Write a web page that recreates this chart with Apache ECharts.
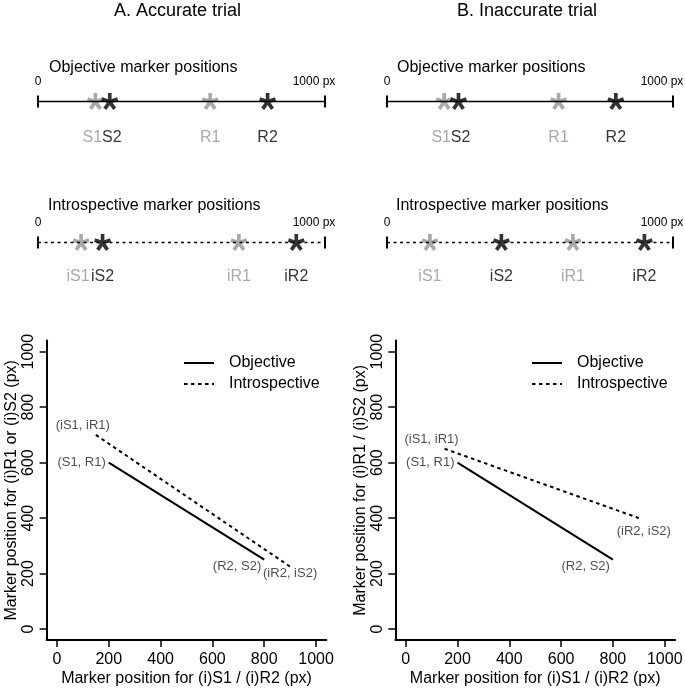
<!DOCTYPE html>
<html><head><meta charset="utf-8">
<script src="https://cdn.jsdelivr.net/npm/echarts@6/dist/echarts.min.js"></script>
<style>html,body{margin:0;padding:0;background:#fff}#c{width:685px;height:690px}</style>
</head><body><div id="c"></div>
<script>
// ---------------- data ----------------
const objectiveNames = ['S1', 'S2', 'R1', 'R2'];
const introNames = ['iS1', 'iS2', 'iR1', 'iR2'];
const objectiveA = [200, 250, 600, 800];   // S1, S2, R1, R2 (accurate trial)
const introA = [150, 225, 700, 900];       // iS1, iS2, iR1, iR2
const objectiveB = [200, 250, 600, 800];   // inaccurate trial
const introB = [150, 400, 650, 900];
const lineEnds = [0, 1000];
const lineEndLabels = ['0', '1000 px'];
const axisTicks = [0, 200, 400, 600, 800, 1000];
const seriesNames = ['Objective', 'Introspective'];
const panelTitles = ['A. Accurate trial', 'B. Inaccurate trial'];
const lineTitles = ['Objective marker positions', 'Introspective marker positions'];
const yAxisTitles = ['Marker position for (i)R1 or (i)S2 (px)', 'Marker position for (i)R1 / (i)S2 (px)'];
const xAxisTitle = 'Marker position for (i)S1 / (i)R2 (px)';

// ---------------- styling / building ----------------
const FONT = 'Liberation Sans, Arial, Helvetica, sans-serif';
const GRAY = '#939393';

function starPath() {
  const w = 0.22;
  let d = '';
  for (let k = 0; k < 5; k++) {
    const a = (-90 + 72 * k) * Math.PI / 180;
    const cx = Math.cos(a), cy = Math.sin(a);
    const px = -cy * w, py = cx * w;
    const pts = [[px, py], [cx + px, cy + py], [cx - px, cy - py], [-px, -py]];
    d += 'M' + pts.map(p => p[0].toFixed(3) + ' ' + p[1].toFixed(3)).join(' L') + ' Z ';
  }
  return 'path://' + d;
}
const STAR = starPath();

// top number-line grids: [left, width, centerY]
const lineGrids = [
  [38, 287, 101.5], [38, 287, 242.5],
  [387, 286, 101.5], [387, 286, 242.5]
];
const plotGrids = [[46.6, 279.8], [395.3, 279.8]];
const PLOT_TOP = 340.6, PLOT_H = 299.5;

const grid = [], xAxis = [], yAxis = [], series = [];
lineGrids.forEach((g, i) => {
  grid.push({left: g[0], width: g[1], top: g[2] - 10, height: 20, outerBoundsMode: 'none'});
  xAxis.push({gridIndex: i, type: 'value', min: 0, max: 1000, show: false});
  yAxis.push({gridIndex: i, type: 'value', min: -1, max: 1, show: false});
});
plotGrids.forEach((g, k) => {
  const gi = 4 + k;
  grid.push({left: g[0], width: g[1], top: PLOT_TOP, height: PLOT_H, outerBoundsMode: 'none'});
  const common = {
    gridIndex: gi, type: 'value', min: -40, max: 1040,
    axisLine: {show: true, onZero: false, lineStyle: {color: '#000', width: 2}},
    axisTick: {show: true, customValues: axisTicks, length: 7, lineStyle: {color: '#000', width: 1.5}},
    splitLine: {show: false},
    nameLocation: 'middle',
    nameMoveOverlap: false,
    nameTextStyle: {fontSize: 16, color: '#000', fontFamily: FONT}
  };
  xAxis.push(Object.assign({}, common, {
    name: xAxisTitle, nameGap: 30,
    axisLabel: {customValues: axisTicks, formatter: v => String(v), fontSize: 16, color: '#000', margin: 11, fontFamily: FONT}
  }));
  yAxis.push(Object.assign({}, common, {
    name: yAxisTitles[k], nameGap: 27,
    axisLabel: {customValues: axisTicks, formatter: v => String(v), fontSize: 16, color: '#000', margin: 10,
                rotate: 90, align: 'center', verticalAlign: 'bottom', fontFamily: FONT}
  }));
});

function numberLine(gi, dashed) {
  series.push({
    type: 'line', xAxisIndex: gi, yAxisIndex: gi, silent: true,
    data: lineEnds.map((v, j) => ({
      value: [v, 0],
      label: {show: true, position: 'inside', formatter: lineEndLabels[j],
              offset: j === 0 ? [0, -19.5] : [-11, -19.5], fontSize: 12, color: '#000', fontFamily: FONT}
    })),
    symbol: 'rect', symbolSize: [2, 12], showSymbol: true,
    itemStyle: {color: '#000'},
    lineStyle: {color: '#000', width: 1.5, type: dashed ? [3, 3.5] : 'solid'}
  });
}
function markers(gi, positions, names, dy, dxs) {
  series.push({
    type: 'scatter', xAxisIndex: gi, yAxisIndex: gi, silent: true,
    symbol: STAR, symbolSize: 17,
    data: positions.map((v, j) => {
      const c = names[j].endsWith('1') ? GRAY : '#000';
      return {value: [v, 0], itemStyle: {color: c},
              label: {show: true, position: 'inside', formatter: names[j], offset: [dxs[j], dy],
                      fontSize: 16, color: c, fontFamily: FONT}};
    })
  });
}
numberLine(0, false); markers(0, objectiveA, objectiveNames, 36, [-3, 2, 0, 0]);
numberLine(1, true);  markers(1, introA, introNames, 34, [-3, 0, 0, 0]);
numberLine(2, false); markers(2, objectiveB, objectiveNames, 36, [-3, 2, 0, 0]);
numberLine(3, true);  markers(3, introB, introNames, 34, [0, 0, 0, 0]);

function plotSeries(gi, obj, intro, introEndLabel) {
  const objPts = [[obj[0], obj[2]], [obj[3], obj[1]]];
  const intPts = [[intro[0], intro[2]], [intro[3], intro[1]]];
  series.push({type: 'line', name: seriesNames[0], xAxisIndex: gi, yAxisIndex: gi, data: objPts,
    symbol: 'none', silent: true, lineStyle: {color: '#000', width: 2}, itemStyle: {color: '#000'}});
  series.push({type: 'line', name: seriesNames[1], xAxisIndex: gi, yAxisIndex: gi, data: intPts,
    symbol: 'none', silent: true, lineStyle: {color: '#000', width: 2, type: [3.5, 3.5]}, itemStyle: {color: '#000'}});
  const lab = {fontSize: 13, color: '#222', fontFamily: FONT};
  series.push({type: 'scatter', xAxisIndex: gi, yAxisIndex: gi, silent: true, symbolSize: 0,
    itemStyle: {color: 'transparent'},
    data: [
      {value: objPts[0], label: Object.assign({show: true, formatter: '(S1, R1)', position: 'left', distance: 3}, lab)},
      {value: objPts[1], label: Object.assign({show: true, formatter: '(R2, S2)', position: 'left', distance: 3, offset: [0, 7]}, lab)},
      {value: intPts[0], label: Object.assign({show: true, formatter: '(iS1, iR1)', position: 'top', distance: 3, offset: [-13, 0]}, lab)},
      {value: intPts[1], label: Object.assign({show: true, formatter: '(iR2, iS2)'}, introEndLabel, lab)}
    ]});
}
plotSeries(4, objectiveA, introA, {position: 'bottom', distance: 0});
plotSeries(5, objectiveB, introB, {position: 'bottom', distance: 7, offset: [5, 0]});

const titleStyle = (fs) => ({fontSize: fs, fontWeight: 'normal', color: '#000', fontFamily: FONT});
const title = [
  {text: panelTitles[0], left: 114, top: 2, padding: 0, textStyle: titleStyle(18)},
  {text: panelTitles[1], left: 457, top: 2, padding: 0, textStyle: titleStyle(18)},
  {text: lineTitles[0], left: 49, top: 60, padding: 0, textStyle: titleStyle(16)},
  {text: lineTitles[0], left: 397, top: 60, padding: 0, textStyle: titleStyle(16)},
  {text: lineTitles[1], left: 48, top: 198, padding: 0, textStyle: titleStyle(16)},
  {text: lineTitles[1], left: 396, top: 198, padding: 0, textStyle: titleStyle(16)}
];
const legendBase = {orient: 'vertical', top: 355, itemWidth: 30, itemHeight: 14, itemGap: 5,
  padding: 0, selectedMode: false, data: seriesNames,
  itemStyle: {color: 'rgba(0,0,0,0)', borderColor: 'rgba(0,0,0,0)', borderWidth: 0, opacity: 0},
  textStyle: {fontSize: 16, color: '#000', fontFamily: FONT, padding: [0, 0, 0, 10]}};
const legend = [Object.assign({left: 183}, legendBase), Object.assign({left: 531}, legendBase)];

const chart = echarts.init(document.getElementById('c'), null, {renderer: 'canvas'});
chart.setOption({
  animation: false,
  backgroundColor: '#fff',
  textStyle: {fontFamily: FONT},
  title, legend, grid, xAxis, yAxis, series
});
</script>
</body></html>
